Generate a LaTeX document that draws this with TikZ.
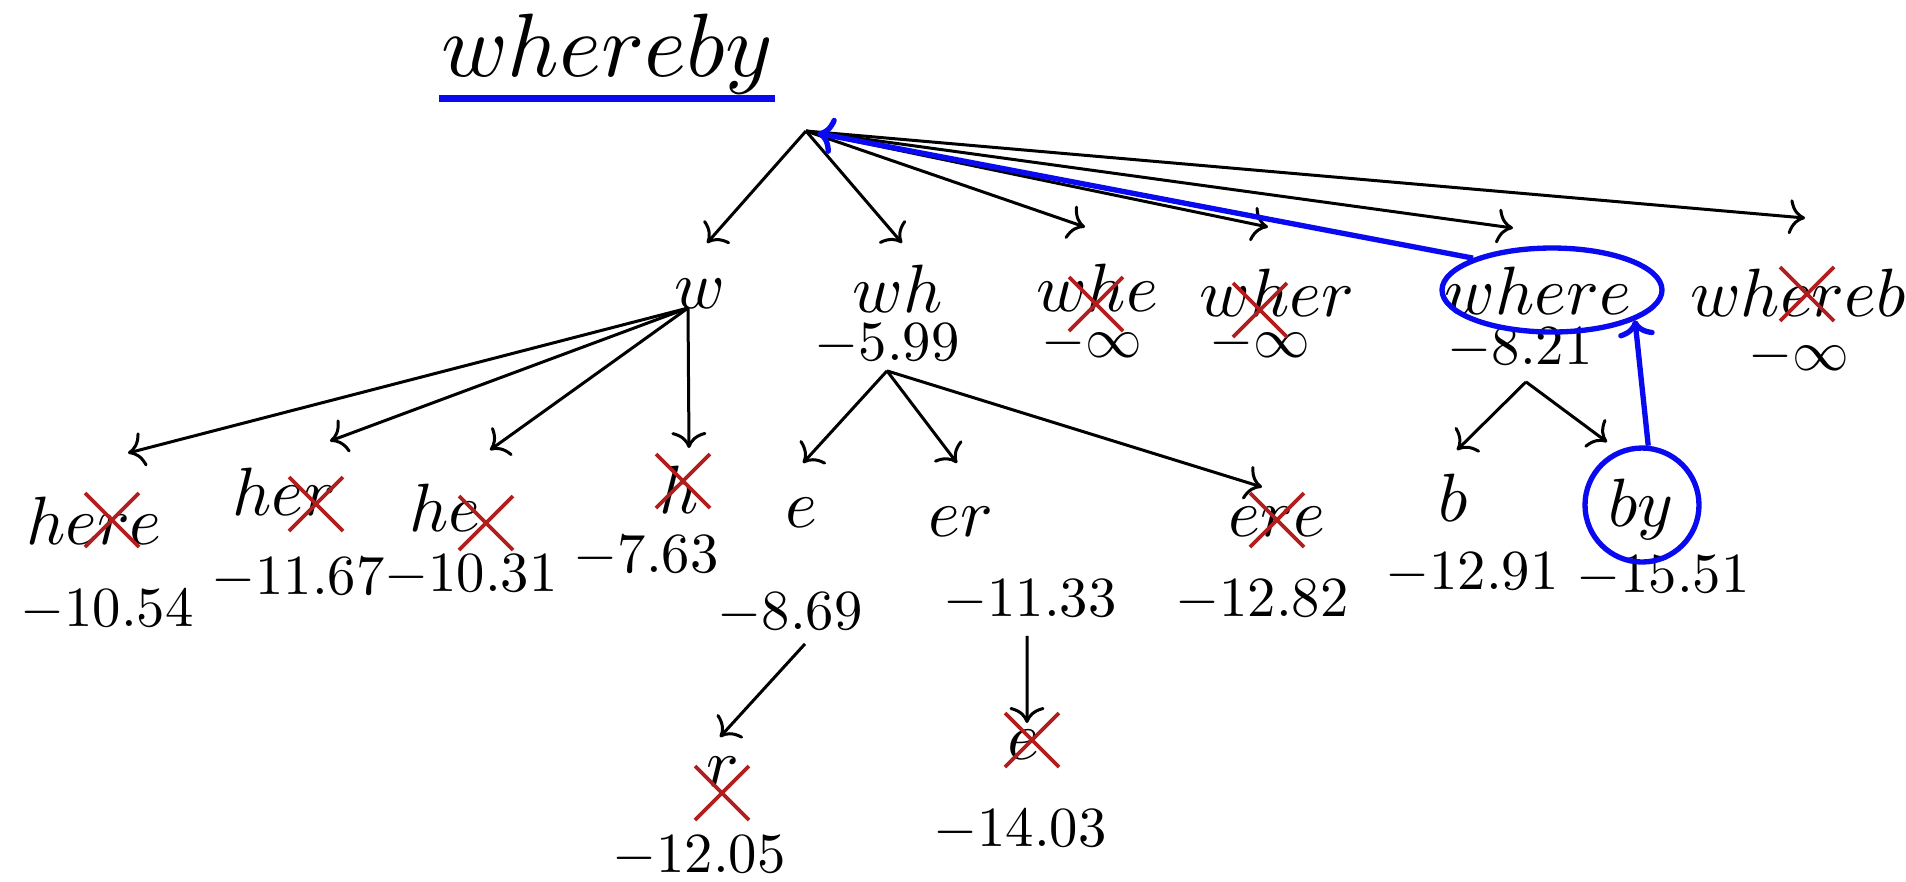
\documentclass[tikz,border=0pt]{standalone}
\usetikzlibrary{arrows.meta,shapes.geometric}
\definecolor{xred}{RGB}{178,30,30}
\definecolor{hblue}{RGB}{10,10,240}
\begin{document}
\begin{tikzpicture}[x=0.3pt,y=-0.3pt,
  lab/.style={anchor=base, inner sep=0pt, font=\normalsize, scale=2.05},
  sco/.style={anchor=base, inner sep=0pt, font=\normalsize, scale=1.7},
  arr/.style={draw=black, line width=0.9pt, -{To[length=4.8pt,width=10.5pt]}},
  barr/.style={draw=hblue, line width=1.6pt, -{To[length=5pt,width=11pt]}},
  hl/.style={draw=hblue, line width=1.6pt, inner sep=0pt},
  pics/redx/.style={code={\draw[xred, line width=1.1pt] (-27,-27) -- (27,27) (-27,27) -- (27,-27);}}]
\useasboundingbox (0,0) rectangle (1906,881);

% title
\node[anchor=base, inner sep=0pt, font=\normalsize, scale=2.7] (title) at (607,76) {$whereby$};
\draw[hblue, line width=2.1pt] ([yshift=-6.6pt]title.base west) -- ([yshift=-6.6pt]title.base east);

% level 1 labels
\node[lab] (l-w) at (700,308) {$w$};
\node[lab] (l-wh) at (898,312) {$wh$};
\node[lab] (l-whe) at (1097,311) {$whe$};
\node[lab] (l-wher) at (1277,316) {$wher$};
\node[lab] (l-where) at (1538,314) {$where$};
\node[lab] (l-whereb) at (1798,316) {$whereb$};
\node[sco] (s-wh) at (887,360) {$-5.99$};
\node[sco] (s-whe) at (1092,357) {$-\infty$};
\node[sco] (s-wher) at (1260,357) {$-\infty$};
\node[sco] (s-where) at (1520,364) {$-8.21$};
\node[sco] (s-whereb) at (1799,370) {$-\infty$};

% level 2 labels
\node[lab] (l-here) at (94,544) {$here$};
\node[lab] (l-her) at (284,515) {$her$};
\node[lab] (l-he) at (445,531) {$he$};
\node[lab] (l-h) at (679,513) {$h$};
\node[lab] (l-e) at (801,527) {$e$};
\node[lab] (l-er) at (961,536) {$er$};
\node[lab] (l-ere) at (1277,536) {$ere$};
\node[lab] (l-b) at (1453,521) {$b$};
\node[lab] (l-by) at (1641,526) {$by$};
\node[lab] (l-r) at (723,786) {$r$};
\node[lab] (l-e2) at (1023,759) {$e$};
\node[sco] (s-here) at (107,626) {$-10.54$};
\node[sco] (s-her) at (298,594) {$-11.67$};
\node[sco] (s-he) at (471,591) {$-10.31$};
\node[sco] (s-h) at (646,572) {$-7.63$};
\node[sco] (s-e) at (790,629) {$-8.69$};
\node[sco] (s-er) at (1030,616) {$-11.33$};
\node[sco] (s-ere) at (1262,616) {$-12.82$};
\node[sco] (s-b) at (1472,589) {$-12.91$};
\node[sco] (s-by) at (1663,592) {$-15.51$};
\node[sco] (s-r) at (699,872) {$-12.05$};
\node[sco] (s-e2) at (1020,846) {$-14.03$};

% highlight shapes
\node[hl, ellipse, minimum width=66pt, minimum height=25.2pt] (c-where) at (1552,290) {};
\node[hl, circle, minimum size=34.2pt] (c-by) at (1642,505) {};

% arrow end points
\coordinate (root) at (806,131);
\coordinate (t-w) at (707,243);
\coordinate (t-wh) at (902,243);
\coordinate (t-whe) at (1085,227);
\coordinate (t-wher) at (1268,227);
\coordinate (t-where) at (1513,228);
\coordinate (t-whereb) at (1805,218);
\coordinate (t-here) at (128,453);
\coordinate (t-her) at (330,441);
\coordinate (t-he) at (490,450);
\coordinate (t-h) at (689,448);
\coordinate (t-e) at (803,463);
\coordinate (t-er) at (957,463);
\coordinate (t-ere) at (1262,487);
\coordinate (t-b) at (1457,450);
\coordinate (t-by) at (1607,442);
\coordinate (t-r) at (720,737);
\coordinate (t-e2) at (1027,723);

% arrows
\foreach \t in {w,wh,whe,wher,where,whereb} \draw[arr] (root) -- (t-\t);
\foreach \t in {here,her,he,h} \draw[arr] ([xshift=-3.6pt]l-w.base) -- (t-\t);
\foreach \t in {e,er,ere} \draw[arr] ([yshift=-1.5pt]s-wh.south) -- (t-\t);
\foreach \t in {b,by} \draw[arr] ([xshift=1.8pt,yshift=-3.6pt]s-where.south) -- (t-\t);
\draw[arr] ([xshift=4.5pt,yshift=-2.7pt]s-e.south) -- (t-r);
\draw[arr] ([xshift=-0.9pt,yshift=-4.2pt]s-er.south) -- (t-e2);

% crosses
\pic at (1096,304) {redx};
\pic at (1260,310) {redx};
\pic at (1807,294) {redx};
\pic at (112,520) {redx};
\pic at (316,504) {redx};
\pic at (486,523) {redx};
\pic at (683,481) {redx};
\pic at (1277,520) {redx};
\pic at (722,793) {redx};
\pic at (1032,740) {redx};

% blue path
\draw[barr, shorten >=3.5pt] (c-where.158) -- (root);
\draw[barr] (c-by.84) -- (c-where.-20);
\end{tikzpicture}
\end{document}
